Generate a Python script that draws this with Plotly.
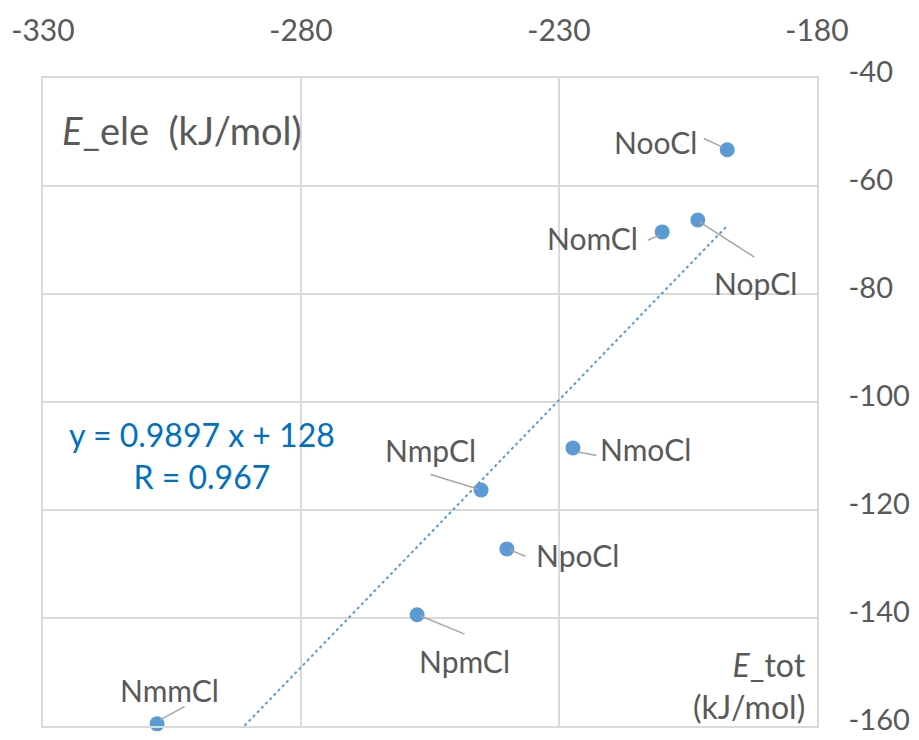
import plotly.graph_objects as go

names = ["NooCl", "NopCl", "NomCl", "NmoCl", "NmpCl", "NpoCl", "NpmCl", "NmmCl"]
e_tot = [-197.4, -203.1, -210.0, -227.3, -245.1, -240.1, -257.5, -307.9]
e_ele = [-53.3, -66.3, -68.5, -108.5, -116.3, -127.2, -139.4, -159.6]
slope = 0.9897
intercept = 128
r_value = 0.967
x_ticks = [-330, -280, -230, -180]
x_labels = ["-330", "-280", "-230", "-180"]
y_ticks = [-40, -60, -80, -100, -120, -140, -160]
y_labels = ["-40", "-60", "-80", "-100", "-120", "-140", "-160"]

# label offsets (px) relative to points
label_off = {
    "NooCl": (-72, -8), "NopCl": (58, 63), "NomCl": (-70, 6), "NmoCl": (73, 1),
    "NmpCl": (-51, -40), "NpoCl": (71, 6), "NpmCl": (47, 46), "NmmCl": (12, -34),
}
leader = {
    "NooCl": ((-20, -9), (-5, -3)), "NopCl": ((56, 36), (2, 2)), "NomCl": ((-14, 6), (-2, 3)),
    "NmoCl": ((20, 4), (5, 4)), "NmpCl": ((-49, -15), (-3, -1)), "NpoCl": ((17, 7), (3, 1)),
    "NpmCl": ((46, 19), (3, 1)), "NmmCl": ((26, -14), (3, -4)),
}

FONT = "Lato, Open Sans, sans-serif"
GRAY = "#595959"
BLUE = "#5b9bd5"

fig = go.Figure()
xmin, xmax = min(e_tot), max(e_tot)
fig.add_trace(go.Scatter(
    x=[xmin, xmax], y=[slope * xmin + intercept, slope * xmax + intercept],
    mode="lines", line=dict(color=BLUE, width=2, dash="dot"), hoverinfo="skip"))
fig.add_trace(go.Scatter(
    x=e_tot, y=e_ele, mode="markers",
    marker=dict(color=BLUE, size=15), cliponaxis=False))

ann = []
for n, x, y in zip(names, e_tot, e_ele):
    dx, dy = label_off[n]
    ann.append(dict(x=x, y=y, xref="x", yref="y", text=n, showarrow=True,
                    arrowcolor="rgba(0,0,0,0)", ax=dx, ay=dy,
                    font=dict(family=FONT, size=30, color=GRAY)))
    (sx, sy), (ex, ey) = leader[n]
    ann.append(dict(x=x, y=y, xref="x", yref="y", text="", showarrow=True,
                    arrowhead=0, arrowwidth=1.5, arrowcolor="#a6a6a6",
                    ax=sx, ay=sy, xshift=ex, yshift=-ey, standoff=0, startstandoff=0))

ann.append(dict(xref="paper", yref="paper", x=0.022, y=0.92, xanchor="left", yanchor="middle",
                text="<i>E</i>_ele  (kJ/mol)", showarrow=False,
                font=dict(family=FONT, size=38, color=GRAY)))
ann.append(dict(xref="paper", yref="paper", x=0.988, y=0.063, xanchor="right", yanchor="middle",
                text="<i>E</i>_tot<br>(kJ/mol)", showarrow=False, align="right",
                font=dict(family=FONT, size=32, color=GRAY)))
ann.append(dict(xref="paper", yref="paper", x=0.205, y=0.418, xanchor="center", yanchor="middle",
                text=f"y = {slope} x + {intercept}<br>R = {r_value}", showarrow=False,
                font=dict(family=FONT, size=32, color="#0070c0")))

axis_common = dict(showgrid=True, gridcolor="#d9d9d9", gridwidth=1.5, zeroline=False,
                   showline=True, linecolor="#d9d9d9", linewidth=1.5, mirror=True,
                   automargin=False, tickcolor="rgba(0,0,0,0)", ticks="outside",
                   ticklabeloverflow="allow")

# page body has an 8px margin, so the figure is sized/offset to fit the 919x740 window
fig.update_layout(
    width=911, height=732, showlegend=False,
    plot_bgcolor="white", paper_bgcolor="white",
    margin=dict(l=35, r=102, t=70, b=14),
    annotations=ann,
    xaxis=dict(range=[-330, -180], side="top", tickvals=x_ticks, ticktext=x_labels,
               ticklen=23, tickfont=dict(family=FONT, size=30, color=GRAY), **axis_common),
    yaxis=dict(range=[-160, -40], side="right", tickvals=y_ticks, ticktext=y_labels,
               ticklen=24, ticklabelshift=-6,
               tickfont=dict(family=FONT, size=29, color=GRAY), **axis_common),
)
fig.write_html("out.html")
